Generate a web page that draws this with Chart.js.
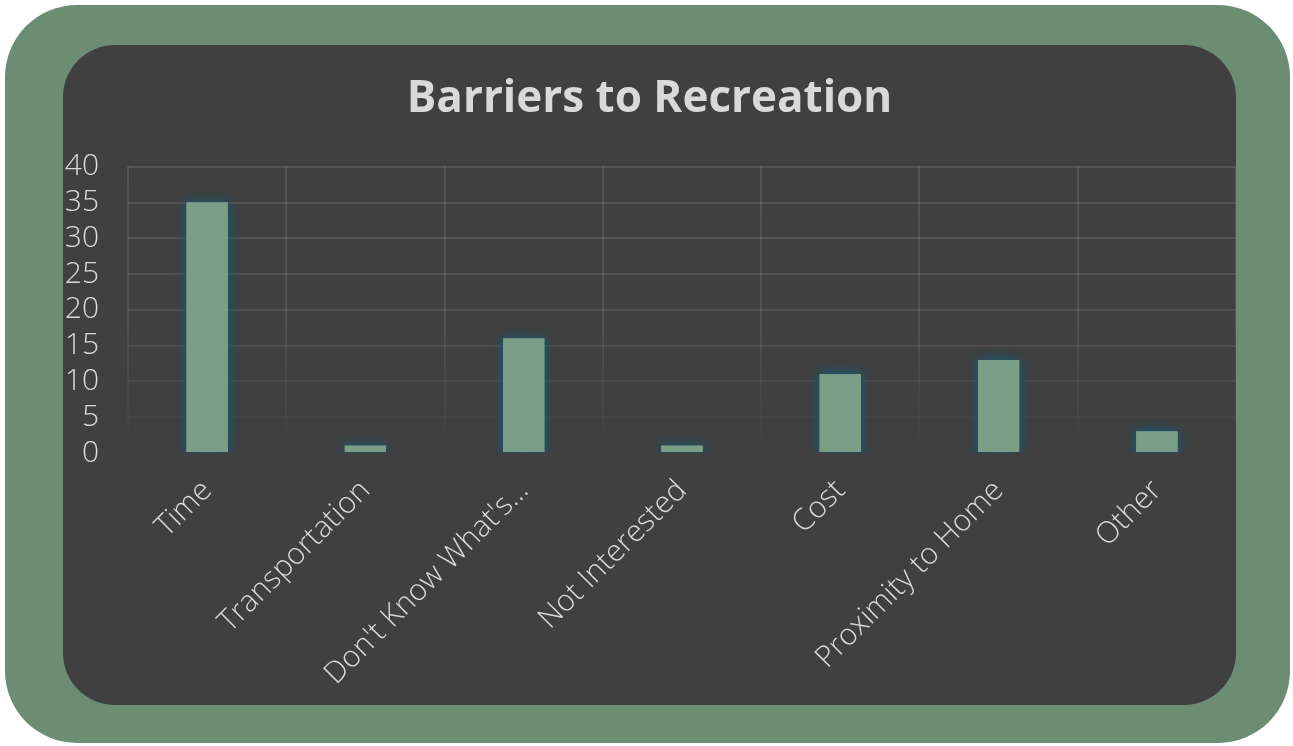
<!DOCTYPE html>
<html>
<head>
<meta charset="utf-8">
<script src="https://cdn.jsdelivr.net/npm/chart.js@4.4.1/dist/chart.umd.min.js"></script>
<style>
  html, body { margin: 0; padding: 0; background: #ffffff; }
  body { width: 1293px; height: 746px; position: relative; overflow: hidden; }
  #marco {
    position: absolute; left: 5px; top: 5px; width: 1285px; height: 738px;
    background: #6c8c74; border-radius: 72px;
  }
  #panel {
    position: absolute; left: 63px; top: 45px; width: 1173px; height: 660px;
    background: #404040; border-radius: 52px; overflow: hidden;
  }
  #grafica { position: absolute; left: 0; top: 0; }
</style>
</head>
<body>
<div id="marco"></div>
<div id="panel"><canvas id="grafica" width="1173" height="660"></canvas></div>
<script>
// ===============================
// DATOS
// ===============================
const categorias = ["Time", "Transportation", "Don't Know What's…", "Not Interested", "Cost", "Proximity to Home", "Other"];
const valores = [35, 1, 16, 1, 11, 13, 3];
const ticksY = [0, 5, 10, 15, 20, 25, 30, 35, 40];

const fuente = "'Open Sans', Lato, sans-serif";
const colorTexto = "#d9d9d9";

// ===============================
// GRADIENTE DE LA REJILLA (se desvanece abajo)
// ===============================
function gradienteRejilla(ctx) {
  const chart = ctx.chart;
  const area = chart.chartArea;
  if (!area) return "rgba(255,255,255,0.1)";
  const g = chart.ctx.createLinearGradient(0, area.top, 0, area.bottom);
  g.addColorStop(0, "rgba(255,255,255,0.11)");
  g.addColorStop(0.55, "rgba(255,255,255,0.09)");
  g.addColorStop(1, "rgba(255,255,255,0)");
  return g;
}

// brillo azulado alrededor de las barras:
// se dibujan las barras un par de veces con sombra para reforzar el halo
const sombraBarras = {
  id: "sombraBarras",
  beforeDatasetDraw(chart, args) {
    const c = chart.ctx;
    const a = chart.chartArea;
    c.save();
    c.beginPath();
    c.rect(a.left, a.top - 20, a.right - a.left, a.bottom - a.top + 20);
    c.clip();
    c.shadowColor = "#1c566e";
    c.shadowBlur = 11;
    for (let i = 0; i < 2; i++) {
      args.meta.data.forEach(el => el.draw(c));
    }
    c.restore();
  }
};

// ===============================
// GRÁFICA
// ===============================
new Chart(document.getElementById("grafica"), {
  type: "bar",
  data: {
    labels: categorias,
    datasets: [{
      data: valores,
      backgroundColor: "#7a9e88",
      borderWidth: 0,
      barPercentage: 0.26,
      categoryPercentage: 1.0
    }]
  },
  options: {
    responsive: false,
    animation: false,
    layout: { padding: 0 },
    plugins: {
      legend: { display: false },
      tooltip: { enabled: false },
      title: {
        display: true,
        text: "Barriers to Recreation",
        color: colorTexto,
        font: { family: fuente, size: 44, weight: "bold" },
        padding: { top: 28, bottom: 41 }
      }
    },
    scales: {
      x: {
        offset: true,
        grid: { offset: true, color: gradienteRejilla, lineWidth: 2, drawTicks: false },
        border: { display: false },
        ticks: {
          color: colorTexto,
          font: { family: fuente, size: 30, weight: "300" },
          minRotation: 45, maxRotation: 45,
          autoSkip: false,
          padding: 20
        },
        afterFit(s) { s.height = 252; }
      },
      y: {
        min: 0, max: 40,
        afterBuildTicks(s) { s.ticks = ticksY.map(v => ({ value: v })); },
        grid: { color: gradienteRejilla, lineWidth: 2, drawTicks: false },
        border: { display: false },
        ticks: {
          color: colorTexto,
          font: { family: fuente, size: 30, weight: "300" },
          autoSkip: false,
          padding: 29
        },
        afterFit(s) { s.width = 65; }
      }
    }
  },
  plugins: [sombraBarras]
});
</script>
</body>
</html>
